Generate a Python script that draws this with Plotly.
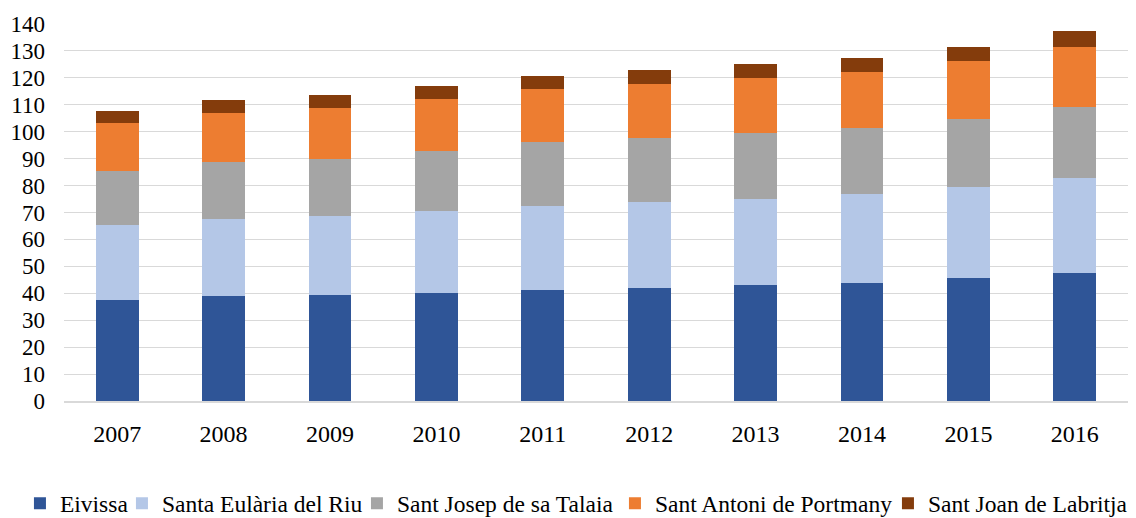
import plotly.graph_objects as go

years = ["2007", "2008", "2009", "2010", "2011", "2012", "2013", "2014", "2015", "2016"]
eivissa = [37.6, 38.9, 39.4, 40.1, 41.2, 41.8, 43.0, 43.8, 45.6, 47.4]
santa_eularia = [27.9, 28.8, 29.4, 30.5, 31.3, 32.0, 32.1, 32.9, 33.9, 35.4]
sant_josep = [20.0, 20.9, 21.2, 22.4, 23.6, 23.9, 24.3, 24.8, 25.3, 26.5]
sant_antoni = [17.6, 18.3, 18.7, 19.3, 19.8, 20.1, 20.4, 20.5, 21.3, 22.3]
sant_joan = [4.6, 4.7, 4.8, 4.8, 4.9, 5.2, 5.3, 5.4, 5.5, 5.8]

series = [
    ("Eivissa", eivissa, "#2F5597", 57),
    ("Santa Eulària del Riu", santa_eularia, "#B4C7E7", 190),
    ("Sant Josep de sa Talaia", sant_josep, "#A5A5A5", 213),
    ("Sant Antoni de Portmany", sant_antoni, "#ED7D31", 228),
    ("Sant Joan de Labritja", sant_joan, "#843C0C", 200),
]

fig = go.Figure()
for name, vals, color, lw in series:
    fig.add_trace(go.Bar(x=years, y=vals, name=name, legendwidth=lw,
                         marker=dict(color=color, line=dict(width=0))))

font_family = "Liberation Serif"
fig.update_layout(
    barmode="stack",
    bargap=0.596,
    width=1136,
    height=518,
    margin=dict(l=56, r=16, t=16, b=125, autoexpand=False),
    plot_bgcolor="white",
    paper_bgcolor="white",
    font=dict(family=font_family, size=23, color="#000000"),
    legend=dict(
        orientation="h",
        x=-0.0414, xanchor="left",
        y=-0.272, yanchor="middle",
        font=dict(family=font_family, size=23.5, color="#000000"),
        itemwidth=30,
        traceorder="normal",
        entrywidthmode="pixels",
    ),
    xaxis=dict(
        showgrid=False,
        showline=True,
        linecolor="#d9d9d9",
        linewidth=1.5,
        ticks="",
        ticklabelstandoff=10,
        tickfont=dict(family=font_family, size=24),
    ),
    yaxis=dict(
        range=[0, 140],
        dtick=10,
        showgrid=True,
        gridcolor="#d9d9d9",
        gridwidth=1.3,
        zeroline=False,
        showline=False,
        ticks="",
        ticklabelstandoff=18,
        tickfont=dict(family=font_family, size=23),
    ),
)

fig.write_html("out.html")
